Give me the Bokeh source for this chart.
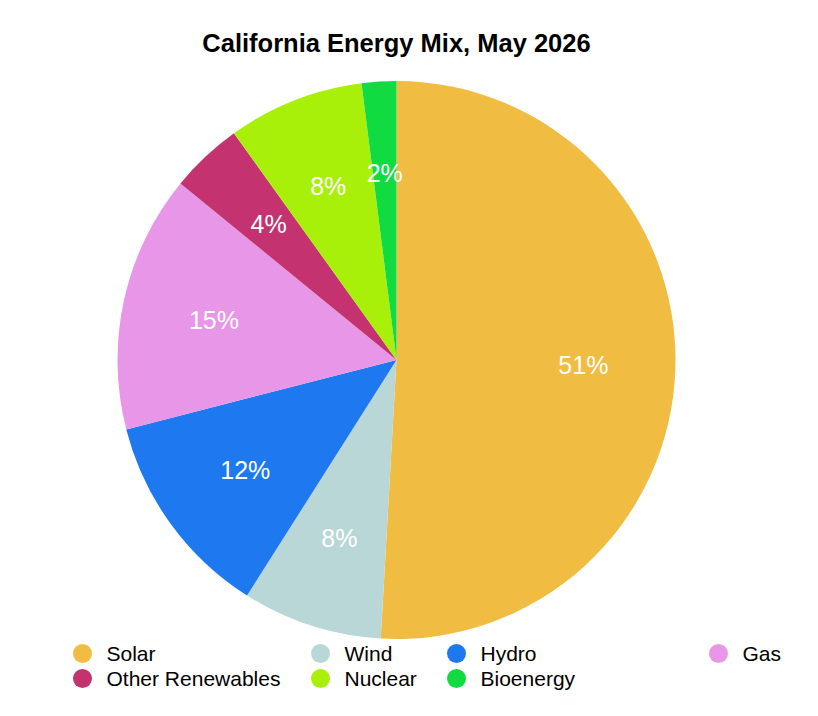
import math
from bokeh.plotting import figure
from bokeh.models import Range1d, ColumnDataSource
from bokeh.core.properties import value
from bokeh.embed import file_html
from bokeh.resources import INLINE

title = "California Energy Mix, May 2026"
sources = ["Solar", "Wind", "Hydro", "Gas", "Other Renewables", "Nuclear", "Bioenergy"]
shares = [50.9, 8.1, 12.0, 14.9, 4.2, 7.9, 2.0]
colors = ["#F0BC42", "#B9D7D7", "#1E78F0", "#E896E8", "#C4336F", "#A8F00A", "#10DC42"]

# legend layout: row/column position of each entry
legend_col = [0, 1, 2, 3, 0, 1, 2]
legend_row = [0, 0, 0, 0, 1, 1, 1]
col_x = [82, 320, 456, 718]
row_y = [653, 678]

W, H = 802, 700

def dx(sx):
    return sx

def dy(sy):
    return H - sy

cx, cy, R = dx(396), dy(359.5), 279

total = sum(shares)
starts, ends, lx, ly, labels = [], [], [], [], []
acc = 0.0
for s in shares:
    a0 = math.pi / 2 - 2 * math.pi * acc / total
    a1 = math.pi / 2 - 2 * math.pi * (acc + s) / total
    starts.append(a0)
    ends.append(a1)
    mid = (a0 + a1) / 2
    lx.append(cx + 0.67 * R * math.cos(mid))
    ly.append(cy + 0.67 * R * math.sin(mid))
    labels.append(f"{round(s)}%")
    acc += s

src = ColumnDataSource(dict(source=sources, share=shares, color=colors,
                            start=starts, end=ends, lx=lx, ly=ly, label=labels))

p = figure(width=W, height=H, output_backend="svg", toolbar_location=None,
           x_range=Range1d(0, W), y_range=Range1d(0, H), min_border=0,
           outline_line_color=None, background_fill_color="white")
p.xaxis.visible = False
p.yaxis.visible = False
p.grid.visible = False

p.wedge(x=cx, y=cy, radius=R, start_angle="start", end_angle="end", direction="clock",
        fill_color="color", line_color=None, source=src)

p.text(x="lx", y="ly", text="label", source=src, text_color="white",
       text_font=value("Liberation Sans"), text_font_size="25px",
       text_align="center", text_baseline="middle")

p.text(x=[dx(396)], y=[dy(42)], text=[title], text_color="black",
       text_font=value("Liberation Sans"), text_font_size="25.5px", text_font_style="bold",
       text_align="center", text_baseline="middle")

leg_x = [dx(col_x[c]) for c in legend_col]
leg_y = [dy(row_y[r]) for r in legend_row]
leg_src = ColumnDataSource(dict(x=leg_x, tx=[x + 24 for x in leg_x], y=leg_y,
                                color=colors, source=sources))
p.scatter(x="x", y="y", source=leg_src, marker="circle", size=19,
          fill_color="color", line_color=None)
p.text(x="tx", y="y", text="source", source=leg_src, text_color="black",
       text_font=value("Liberation Sans"), text_font_size="21px",
       text_align="left", text_baseline="middle")

open("out.html", "w").write(file_html(p, INLINE))
